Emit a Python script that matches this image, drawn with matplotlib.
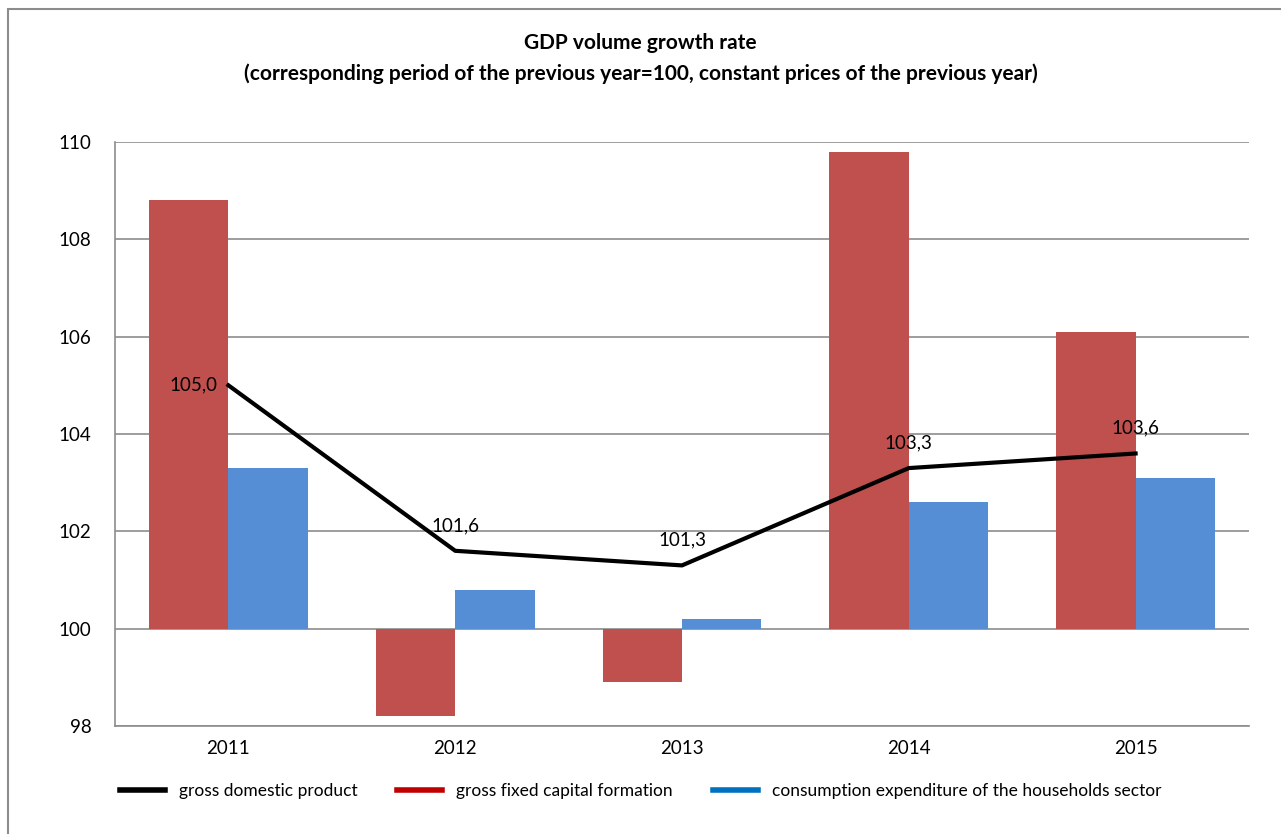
import matplotlib.pyplot as plt
import numpy as np
from matplotlib.lines import Line2D
from matplotlib.patches import Rectangle

years = ['2011', '2012', '2013', '2014', '2015']
gdp = [105.0, 101.6, 101.3, 103.3, 103.6]
capital_formation = [108.8, 98.2, 98.9, 109.8, 106.1]
households = [103.3, 100.8, 100.2, 102.6, 103.1]
gdp_labels = ['105,0', '101,6', '101,3', '103,3', '103,6']

plt.rcParams['font.family'] = ['Lato', 'DejaVu Sans']

fig = plt.figure(figsize=(12.81, 8.34), dpi=100)
ax = fig.add_axes([0.0898, 0.1295, 0.8852, 0.7002])

# outer chart frame
fig.patches.append(Rectangle((8 / 1281, -0.05), 1.1, 1 - 9 / 834 + 0.05,
                             transform=fig.transFigure, fill=False,
                             edgecolor='#8c8c8c', linewidth=1.5))

x = np.arange(len(years))
width = 0.35
red = np.array(capital_formation) - 100
blue = np.array(households) - 100
ax.bar(x - width / 2, red, width, bottom=100, color='#C0504D', zorder=2)
ax.bar(x + width / 2, blue, width, bottom=100, color='#558ED5', zorder=2)
ax.plot(x, gdp, color='black', linewidth=3, zorder=3)

# data labels
offsets = [(-8, 0, 'right', 'center'), (0, 12, 'center', 'bottom'),
           (0, 12, 'center', 'bottom'), (0, 12, 'center', 'bottom'),
           (0, 12, 'center', 'bottom')]
for i, (v, lab) in enumerate(zip(gdp, gdp_labels)):
    dx, dy, ha, va = offsets[i]
    ax.annotate(lab, (x[i], v), xytext=(dx, dy), textcoords='offset points',
                ha=ha, va=va, fontsize=13.5, zorder=4)

ax.set_xlim(-0.5, len(years) - 0.5)
ax.set_ylim(98, 110)
ax.set_yticks(range(98, 111, 2))
ax.set_xticks(x)
ax.set_xticklabels(years)
ax.tick_params(axis='both', length=0, labelsize=13.5, pad=10)
ax.tick_params(axis='y', pad=17)
ax.grid(axis='y', color='#8c8c8c', linewidth=1.2, zorder=0)
for side in ['top', 'right']:
    ax.spines[side].set_visible(False)
for side in ['left', 'bottom']:
    ax.spines[side].set_color('#8c8c8c')
    ax.spines[side].set_linewidth(1.2)

fig.text(0.5, 0.949, 'GDP volume growth rate', ha='center', va='center',
         fontsize=15, fontweight='bold')
fig.text(0.5, 0.912, '(corresponding period of the previous year=100, constant prices of the previous year)',
         ha='center', va='center', fontsize=15, fontweight='bold')

handles = [Line2D([0], [0], color='black', linewidth=4),
           Line2D([0], [0], color='#C00000', linewidth=4),
           Line2D([0], [0], color='#0070C0', linewidth=4)]
labels = ['gross domestic product', 'gross fixed capital formation',
          'consumption expenditure of the households sector']
fig.legend(handles, labels, loc='center', bbox_to_anchor=(0.5, 0.052), ncol=3,
           frameon=False, fontsize=12.5, handlelength=2.6, handletextpad=0.8,
           columnspacing=2.3)

plt.savefig('out.png', dpi=100)
plt.close()
